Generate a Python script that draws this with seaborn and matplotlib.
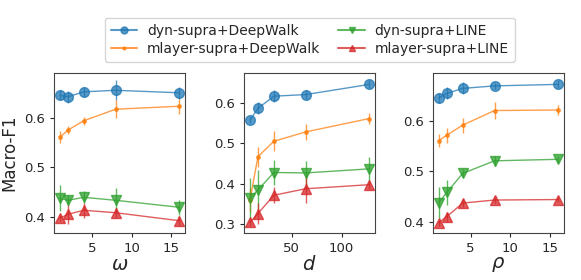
import matplotlib
matplotlib.use("Agg")
import matplotlib.pyplot as plt
from matplotlib.lines import Line2D
import seaborn as sns

sns.set_style("ticks")
plt.rcParams['font.family'] = ['DejaVu Sans']

series = ["dyn-supra+DeepWalk", "mlayer-supra+DeepWalk", "dyn-supra+LINE", "mlayer-supra+LINE"]
markers = ["o", ".", "v", "^"]
colors = sns.color_palette("tab10")[:4]

# omega panel
omega_x = [1, 2, 4, 8, 16]
omega_y = [
    [0.645, 0.642, 0.652, 0.655, 0.650],
    [0.561, 0.575, 0.594, 0.617, 0.623],
    [0.438, 0.434, 0.440, 0.434, 0.420],
    [0.398, 0.406, 0.414, 0.409, 0.393],
]
omega_err = [
    [0.010, 0.012, 0.010, 0.020, 0.012],
    [0.012, 0.008, 0.008, 0.018, 0.015],
    [0.026, 0.010, 0.012, 0.025, 0.015],
    [0.006, 0.020, 0.015, 0.010, 0.010],
]

# d panel
d_x = [8, 16, 32, 64, 128]
d_y = [
    [0.557, 0.586, 0.616, 0.620, 0.645],
    [0.360, 0.467, 0.505, 0.528, 0.561],
    [0.365, 0.385, 0.428, 0.427, 0.437],
    [0.305, 0.327, 0.372, 0.388, 0.398],
]
d_err = [
    [0.008, 0.015, 0.015, 0.010, 0.010],
    [0.030, 0.025, 0.025, 0.020, 0.013],
    [0.050, 0.050, 0.030, 0.030, 0.030],
    [0.008, 0.025, 0.020, 0.035, 0.010],
]

# rho panel
rho_x = [1, 2, 4, 8, 16]
rho_y = [
    [0.646, 0.655, 0.665, 0.670, 0.673],
    [0.561, 0.572, 0.592, 0.621, 0.622],
    [0.438, 0.458, 0.496, 0.521, 0.524],
    [0.398, 0.410, 0.437, 0.443, 0.444],
]
rho_err = [
    [0.010, 0.012, 0.012, 0.006, 0.008],
    [0.013, 0.015, 0.015, 0.017, 0.010],
    [0.030, 0.025, 0.008, 0.010, 0.006],
    [0.006, 0.010, 0.008, 0.006, 0.005],
]

fig = plt.figure(figsize=(5.81, 2.8), dpi=100)
lefts = [0.093, 0.420, 0.745]
panels = [
    (omega_x, omega_y, omega_err, r"$\omega$"),
    (d_x, d_y, d_err, r"$d$"),
    (rho_x, rho_y, rho_err, r"$\rho$"),
]
for i, (xs, ys, es, lab) in enumerate(panels):
    ax = fig.add_axes([lefts[i], 0.168, 0.226, 0.571])
    for j in range(4):
        ms = 7 if markers[j] != "." else 5
        ax.errorbar(xs, ys[j], yerr=es[j], marker=markers[j], color=colors[j],
                    ms=ms, lw=1, elinewidth=1, alpha=0.75, label=series[j])
    ax.set_xlabel(lab, fontsize=14, labelpad=0)
    ax.tick_params(labelsize=9.5, length=3)
    if i == 0:
        ax.set_ylabel("Macro-F1", fontsize=12)
    for s in ax.spines.values():
        s.set_color("#444444")

axes = fig.axes
axes[0].set_yticks([0.4, 0.5, 0.6])
axes[1].set_yticks([0.3, 0.4, 0.5, 0.6])
axes[1].set_xticks([50, 100])
axes[2].set_yticks([0.4, 0.5, 0.6])

handles = [Line2D([], [], color=colors[j], marker=markers[j], lw=1.5, alpha=0.75,
                  ms=(5 if markers[j] != "." else 4)) for j in range(4)]
fig.legend(handles, series, loc="upper center", bbox_to_anchor=(0.533, 0.962), ncol=2,
           fontsize=10, frameon=True, columnspacing=1.3, handlelength=1.9,
           handletextpad=0.7, borderpad=0.45, labelspacing=0.3, borderaxespad=0.5)

fig.savefig("out.png", dpi=100)
